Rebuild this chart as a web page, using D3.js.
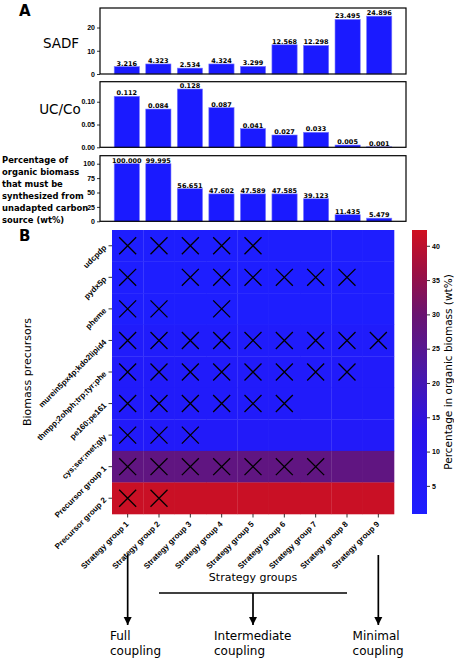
<!DOCTYPE html>
<html>
<head>
<meta charset="UTF-8">
<title>Coupling strategies</title>
<script src="https://cdn.jsdelivr.net/npm/d3@7/dist/d3.min.js"></script>
<style>
  body { margin: 0; background: #fff; }
  svg { display: block; font-family: "DejaVu Sans", sans-serif; }
  .tick-lbl { font-size: 7px; font-weight: bold; fill: #000; }
  .hm-lbl { font-size: 8px; font-weight: bold; fill: #000; }
  .bar-lbl { font-size: 6.5px; font-weight: bold; fill: #000; }
</style>
</head>
<body>
<div id="chart"></div>
<script>
// ---- data ----
var strategies = ["Strategy group 1", "Strategy group 2", "Strategy group 3", "Strategy group 4",
  "Strategy group 5", "Strategy group 6", "Strategy group 7", "Strategy group 8", "Strategy group 9"];

var sadf = [3.216, 4.323, 2.534, 4.324, 3.299, 12.568, 12.298, 23.495, 24.896];
var ucco = [0.112, 0.084, 0.128, 0.087, 0.041, 0.027, 0.033, 0.005, 0.001];
var pctUnadapted = [100.000, 99.995, 56.651, 47.602, 47.589, 47.585, 39.123, 11.435, 5.479];

var sadfTicks = [0, 10, 20];
var uccoTicks = [0, 0.05, 0.10];
var pctTicks = [0, 25, 50, 75, 100];

var precursors = ["udcpdp", "pydx5p", "pheme", "murein5px4p;kdo2lipid4", "thmpp;2ohph;trp;tyr;phe",
  "pe160;pe161", "cys;ser;met;gly", "Precursor group 1", "Precursor group 2"];
// percentage of organic biomass for each precursor row (wt%)
var precursorPct = [1.2, 1.1, 1.3, 3.0, 3.8, 3.5, 4.6, 27.5, 41.5];
// 1 = precursor coupled in that strategy group (drawn as X)
var coupled = [
  [1, 1, 1, 1, 1, 0, 0, 0, 0],
  [1, 0, 1, 1, 1, 1, 1, 1, 0],
  [1, 1, 0, 1, 0, 0, 0, 0, 0],
  [1, 1, 1, 1, 1, 1, 1, 1, 1],
  [1, 1, 1, 1, 1, 1, 1, 1, 0],
  [1, 1, 1, 1, 1, 1, 0, 0, 0],
  [1, 1, 1, 0, 0, 0, 0, 0, 0],
  [1, 1, 1, 1, 1, 1, 1, 0, 0],
  [1, 1, 0, 0, 0, 0, 0, 0, 0]
];
var colorbarTicks = [5, 10, 15, 20, 25, 30, 35, 40];
var couplingLabels = [["Full", "coupling"], ["Intermediate", "coupling"], ["Minimal", "coupling"]];

// ---- setup ----
var W = 454, H = 660;
var svg = d3.select("#chart").append("svg").attr("width", W).attr("height", H);

var barColor = "#1a1aff";

// bar x positions line up with heatmap columns
var xIdx = d3.scaleLinear().domain([-0.85, 8.85]).range([100, 406]);

function barPanel(values, ticks, top, bottom, ymax, fmt, tickFmt) {
  var y = d3.scaleLinear().domain([0, ymax]).range([bottom, top]);
  var g = svg.append("g");
  g.selectAll("rect.bar").data(values).enter().append("rect")
    .attr("class", "bar")
    .attr("x", function(d, i) { return xIdx(i - 0.4); })
    .attr("width", xIdx(0.4) - xIdx(-0.4))
    .attr("y", function(d) { return y(d); })
    .attr("height", function(d) { return y(0) - y(d); })
    .attr("fill", barColor)
    .attr("stroke", "#7d7dff").attr("stroke-width", 0.6);
  g.selectAll("text.bar-lbl").data(values).enter().append("text")
    .attr("class", "bar-lbl")
    .attr("x", function(d, i) { return xIdx(i); })
    .attr("y", function(d) { return y(d) - 1; })
    .attr("text-anchor", "middle")
    .text(function(d) { return d3.format(fmt)(d); });
  var ax = g.append("g").attr("transform", "translate(" + xIdx.range()[0] + ",0)")
    .call(d3.axisLeft(y).tickValues(ticks).tickSize(3).tickPadding(2).tickFormat(d3.format(tickFmt)));
  ax.select(".domain").remove();
  ax.selectAll("text").attr("class", "tick-lbl").attr("font-family", null).attr("font-size", null);
  ax.selectAll("line").attr("stroke-width", 0.8);
  g.append("rect")
    .attr("x", xIdx.range()[0]).attr("y", top)
    .attr("width", xIdx.range()[1] - xIdx.range()[0]).attr("height", bottom - top)
    .attr("fill", "none").attr("stroke", "#000").attr("stroke-width", 1.2);
  return g;
}

barPanel(sadf, sadfTicks, 8, 74, 28.4, ".3f", "d");
barPanel(ucco, uccoTicks, 81.7, 147.3, 0.144, ".3f", ".2f");
barPanel(pctUnadapted, pctTicks, 155.7, 221.3, 113.9, ".3f", "d");

svg.append("text").attr("x", 19).attr("y", 16).attr("font-size", 15).attr("font-weight", "bold").text("A");
svg.append("text").attr("x", 61).attr("y", 47.5).attr("font-size", 13.5).attr("text-anchor", "middle").text("SADF");
svg.append("text").attr("x", 60).attr("y", 114).attr("font-size", 13.5).attr("text-anchor", "middle").text("UC/Co");
var pctLines = ["Percentage of", "organic biomass", "that must be", "synthesized from", "unadapted carbon", "source (wt%)"];
svg.append("text").attr("font-size", 8.4).attr("font-weight", "bold")
  .selectAll("tspan").data(pctLines).enter().append("tspan")
  .attr("x", 2).attr("y", function(d, i) { return 162.5 + i * 12; })
  .text(function(d) { return d; });

// ---- heatmap ----
var hx = d3.scaleBand().domain(strategies).range([112, 394]);
var hy = d3.scaleBand().domain(precursors).range([230, 514]);
var color = d3.scaleLinear()
  .domain([0.9, 13, 21.6, 30, 36, 42.3])
  .range(["#1e1eff", "#2a12ea", "#4a18a8", "#6a1470", "#9a1044", "#d01020"])
  .clamp(true);

svg.append("text").attr("x", 19).attr("y", 241).attr("font-size", 15).attr("font-weight", "bold").text("B");

var cells = [];
precursors.forEach(function(p, r) {
  strategies.forEach(function(s, c) {
    cells.push({ row: p, col: s, v: precursorPct[r], mark: coupled[r][c] });
  });
});

svg.append("g").selectAll("rect").data(cells).enter().append("rect")
  .attr("x", function(d) { return hx(d.col); })
  .attr("y", function(d) { return hy(d.row); })
  .attr("width", hx.bandwidth() + 0.3)
  .attr("height", hy.bandwidth() + 0.3)
  .attr("fill", function(d) { return color(d.v); });

var xSym = d3.symbol().type(d3.symbolX).size(190);
svg.append("g").selectAll("path").data(cells.filter(function(d) { return d.mark; })).enter().append("path")
  .attr("transform", function(d) {
    return "translate(" + (hx(d.col) + hx.bandwidth() / 2) + "," + (hy(d.row) + hy.bandwidth() / 2) + ")";
  })
  .attr("d", xSym)
  .attr("fill", "none").attr("stroke", "#000").attr("stroke-width", 1.3);

// y axis of heatmap
var yAx = svg.append("g").attr("transform", "translate(112,0)")
  .call(d3.axisLeft(hy).tickSize(3.5).tickPadding(0));
yAx.select(".domain").remove();
yAx.selectAll("line").attr("stroke-width", 0.8);
yAx.selectAll("text")
  .attr("class", "hm-lbl").attr("font-family", null).attr("font-size", null)
  .attr("text-anchor", "end").attr("x", 0).attr("dy", 0)
  .attr("transform", "translate(-5,2.5) rotate(-45)");

// x axis of heatmap
var xAx = svg.append("g").attr("transform", "translate(0,514)")
  .call(d3.axisBottom(hx).tickSize(3.5).tickPadding(0));
xAx.select(".domain").remove();
xAx.selectAll("line").attr("stroke-width", 0.8);
xAx.selectAll("text")
  .attr("class", "hm-lbl").attr("font-family", null).attr("font-size", null)
  .attr("text-anchor", "end").attr("y", 0).attr("dy", 0)
  .attr("transform", "translate(1.5,10.5) rotate(-45)");

svg.append("text").attr("x", 27).attr("y", 372).attr("font-size", 11)
  .attr("text-anchor", "middle").attr("transform", "rotate(-90,27,372)").attr("dy", "0.35em")
  .text("Biomass precursors");
svg.append("text").attr("x", 253).attr("y", 581).attr("font-size", 11)
  .attr("text-anchor", "middle").text("Strategy groups");

// ---- colorbar ----
var cbY = d3.scaleLinear().domain([0.9, 42.3]).range([514, 230]);
var defs = svg.append("defs");
var grad = defs.append("linearGradient").attr("id", "cbgrad")
  .attr("x1", 0).attr("y1", 1).attr("x2", 0).attr("y2", 0);
color.domain().forEach(function(v) {
  grad.append("stop")
    .attr("offset", (v - 0.9) / (42.3 - 0.9))
    .attr("stop-color", color(v));
});
svg.append("rect").attr("x", 412).attr("y", 230).attr("width", 15).attr("height", 284)
  .attr("fill", "url(#cbgrad)");
var cbAx = svg.append("g").attr("transform", "translate(427,0)")
  .call(d3.axisRight(cbY).tickValues(colorbarTicks).tickSize(3).tickPadding(2));
cbAx.select(".domain").remove();
cbAx.selectAll("line").attr("stroke-width", 0.8);
cbAx.selectAll("text").attr("class", "tick-lbl").attr("font-family", null).attr("font-size", null);
svg.append("text").attr("x", 448).attr("y", 372).attr("font-size", 10.5)
  .attr("text-anchor", "middle").attr("transform", "rotate(-90,448,372)").attr("dy", "0.35em")
  .text("Percentage in organic biomass (wt%)");

// ---- coupling arrows ----
defs.append("marker").attr("id", "arr")
  .attr("viewBox", "0 0 10 10").attr("refX", 10).attr("refY", 5)
  .attr("markerWidth", 5).attr("markerHeight", 5).attr("markerUnits", "strokeWidth")
  .attr("orient", "auto")
  .append("path").attr("d", "M0,0 L10,5 L0,10 z").attr("fill", "#000");

var cx = function(i) { return hx(strategies[i]) + hx.bandwidth() / 2; };
var arrows = svg.append("g").attr("stroke", "#000").attr("stroke-width", 1.7).attr("fill", "none");
arrows.append("line").attr("x1", cx(0)).attr("x2", cx(0)).attr("y1", 555).attr("y2", 625).attr("marker-end", "url(#arr)");
arrows.append("line").attr("x1", cx(8)).attr("x2", cx(8)).attr("y1", 555).attr("y2", 625).attr("marker-end", "url(#arr)");
arrows.append("line").attr("x1", cx(1)).attr("x2", cx(7)).attr("y1", 593).attr("y2", 593);
arrows.append("line").attr("x1", cx(4)).attr("x2", cx(4)).attr("y1", 593).attr("y2", 625).attr("marker-end", "url(#arr)");

var labX = [110, 214, 352.6];
couplingLabels.forEach(function(lines, i) {
  svg.append("text").attr("font-size", 12)
    .selectAll("tspan").data(lines).enter().append("tspan")
    .attr("x", labX[i]).attr("y", function(d, j) { return 640 + j * 15; })
    .text(function(d) { return d; });
});
</script>
</body>
</html>
